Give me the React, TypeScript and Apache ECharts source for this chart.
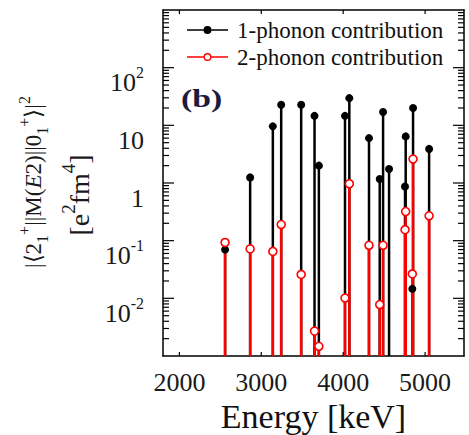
import React, { useEffect, useRef } from "react";
import * as echarts from "echarts";

// Transition energies (keV)
const energies = [2558, 2864, 3141, 3243, 3487, 3650, 3703, 4022, 4075, 4315, 4446, 4487, 4560, 4755, 4763, 4844, 4853, 5049];
// 1-phonon contribution |<2+||M(E2)||0+>|^2 [e^2 fm^4]
const onePhonon = [0.07, 1.25, 9.6, 22.8, 22.8, 14.6, 2.0, 14.6, 29.6, 6.0, 1.17, 17.0, 1.75, 0.87, 6.43, 0.0146, 20, 3.9];
// 2-phonon contribution
const twoPhonon = [0.093, 0.072, 0.065, 0.19, 0.026, 0.0027, 0.00147, 0.0101, 0.97, 0.083, 0.0078, 0.083, null, 0.155, 0.32, 0.0265, 2.6, 0.27];

const seriesNames = ["1-phonon contribution", "2-phonon contribution"];
const xTickValues = [2000, 3000, 4000, 5000];
const yMajorTicks = [0.01, 0.1, 1, 10, 100];
const yLabelValues = [0.01, 0.1, 1, 10, 100];
const yLabelTexts = ["{b|10}{s|-2}", "{b|10}{s|-1}", "{b|1}", "{b|10}", "{b|10}{s|2}"];
const yMinorTicks: number[] = [];
for (let d = -3; d <= 2; d++) {
  for (let m = 2; m <= 9; m++) yMinorTicks.push(m * Math.pow(10, d));
}

const X_MIN = 1800;
const X_MAX = 5475;
const Y_MIN = 0.001;
const Y_MAX = 1000;

const SERIF = "Liberation Serif";

const blackIcon =
  "path://M0,3.3H16.5V4.7H0Z M24.5,3.3H41V4.7H24.5Z M16.5,4A4,4,0,1,0,24.5,4A4,4,0,1,0,16.5,4Z";
const redIcon =
  "path://M0,3.3H16.5V4.7H0Z M24.5,3.3H41V4.7H24.5Z M16.5,4A4,4,0,1,1,24.5,4A4,4,0,1,1,16.5,4Z M17.9,4A2.6,2.6,0,1,0,23.1,4A2.6,2.6,0,1,0,17.9,4Z";

function pairs(vals: (number | null)[]) {
  const out: number[][] = [];
  vals.forEach((v, i) => {
    if (v !== null && v !== undefined) out.push([energies[i], v]);
  });
  return out;
}

function stemRenderer(color: string) {
  return (params: any, api: any) => {
    const x = api.value(0);
    const y = api.value(1);
    const top = api.coord([x, y]);
    const bottom = api.coord([x, Y_MIN]);
    return {
      type: "line",
      shape: { x1: top[0], y1: top[1], x2: bottom[0], y2: bottom[1] },
      style: { stroke: color, lineWidth: 2.5 },
    };
  };
}

const textGraphics: any[] = [
  {
    type: "text",
    left: 181,
    top: 86,
    scaleX: 1.35,
    z: 50,
    style: {
      text: "(b)",
      fontFamily: SERIF,
      fontWeight: "bold",
      fontSize: 25,
      fill: "#1b1b3d",
    },
  },
  {
    type: "text",
    x: 33,
    y: 182,
    rotation: Math.PI / 2,
    z: 50,
    style: {
      text: "{n||⟨2}{sub|1}{sup|+}{n|||M(}{i|E}{n|2)||0}{sub|1}{sup|+}{n|⟩|}{sup|2}",
      align: "center",
      verticalAlign: "middle",
      fill: "#1a1a1a",
      rich: {
        n: { fontFamily: SERIF, fontSize: 23, lineHeight: 34, fill: "#1a1a1a" },
        i: { fontFamily: SERIF, fontSize: 23, lineHeight: 34, fontStyle: "italic", fill: "#1a1a1a" },
        sup: { fontFamily: SERIF, fontSize: 16, verticalAlign: "top", fill: "#1a1a1a" },
        sub: { fontFamily: SERIF, fontSize: 16, verticalAlign: "bottom", fill: "#1a1a1a" },
      },
    },
  },
  {
    type: "text",
    x: 79,
    y: 195,
    rotation: Math.PI / 2,
    z: 50,
    style: {
      text: "{n|[e}{sup|2}{n|fm}{sup|4}{n|]}",
      align: "center",
      verticalAlign: "middle",
      fill: "#1a1a1a",
      rich: {
        n: { fontFamily: SERIF, fontSize: 28, lineHeight: 40, fill: "#1a1a1a" },
        sup: { fontFamily: SERIF, fontSize: 19, verticalAlign: "top", fill: "#1a1a1a" },
      },
    },
  },
];

export default function App() {
  const ref = useRef<HTMLDivElement>(null);

  useEffect(() => {
    document.body.style.margin = "0";
    if (!ref.current) return;
    const chart = echarts.init(ref.current, undefined, { renderer: "svg" });
    const axisLineStyle = { color: "#000", width: 1.5 };
    const yFormatter = (v: number) => {
      const i = yLabelValues.findIndex((t) => Math.abs(Math.log10(t) - Math.log10(v)) < 1e-6);
      return i >= 0 ? yLabelTexts[i] : "";
    };
    const logBase = {
      type: "log" as const,
      logBase: 10,
      min: Y_MIN,
      max: Y_MAX,
      splitLine: { show: false },
      axisTick: { show: false },
      minorTick: { show: false },
    };
    chart.setOption({
      animation: false,
      backgroundColor: "#fff",
      textStyle: { fontFamily: SERIF },
      grid: { left: 163, right: 5, top: 10, bottom: 79, containLabel: false, outerBoundsMode: "none" },
      legend: {
        orient: "vertical",
        left: 182,
        top: 13,
        itemWidth: 41,
        itemHeight: 8,
        itemGap: 3,
        selectedMode: false,
        textStyle: { fontFamily: SERIF, fontSize: 23, color: "#111", lineHeight: 24, padding: [0, 0, 0, 4] },
        data: [
          { name: seriesNames[0], icon: blackIcon, itemStyle: { color: "#000", borderWidth: 0 } },
          { name: seriesNames[1], icon: redIcon, itemStyle: { color: "#ff0000", borderWidth: 0 } },
        ],
      },
      xAxis: [
        {
          type: "value",
          min: X_MIN,
          max: X_MAX,
          position: "bottom",
          splitLine: { show: false },
          axisLine: { show: true, onZero: false, lineStyle: axisLineStyle },
          axisTick: { show: false },
          axisLabel: {
            customValues: xTickValues,
            formatter: (v: number) => String(v),
            margin: 26,
            verticalAlign: "middle",
            fontFamily: SERIF,
            fontSize: 26,
            color: "#1a1a1a",
          },
          name: "Energy [keV]",
          nameLocation: "middle",
          nameGap: 57,
          nameTextStyle: { fontFamily: SERIF, fontSize: 34, color: "#111", verticalAlign: "middle" },
        },
        {
          type: "value",
          min: X_MIN,
          max: X_MAX,
          position: "top",
          splitLine: { show: false },
          axisLine: { show: true, onZero: false, lineStyle: axisLineStyle },
          axisTick: { show: false },
          axisLabel: { show: false },
        },
      ],
      yAxis: [
        {
          ...logBase,
          position: "left",
          axisLine: { show: true, lineStyle: axisLineStyle },
          axisLabel: {
            customValues: yLabelValues,
            formatter: yFormatter,
            margin: 19,
            padding: [30, 0, 0, 0],
            fontFamily: SERIF,
            color: "#1a1a1a",
            rich: {
              b: { fontFamily: SERIF, fontSize: 26, lineHeight: 36, color: "#1a1a1a" },
              s: { fontFamily: SERIF, fontSize: 16, verticalAlign: "top", color: "#1a1a1a" },
            },
          },
        },
        {
          ...logBase,
          position: "right",
          axisLine: { show: true, lineStyle: axisLineStyle },
          axisLabel: { show: false },
        },
      ],
      series: [
        {
          name: seriesNames[0],
          type: "custom",
          xAxisIndex: 0,
          yAxisIndex: 0,
          renderItem: stemRenderer("#000"),
          itemStyle: { color: "#000" },
          data: pairs(onePhonon),
          z: 2,
        },
        {
          name: seriesNames[1],
          type: "custom",
          xAxisIndex: 0,
          yAxisIndex: 0,
          renderItem: stemRenderer("#ff0000"),
          itemStyle: { color: "#ff0000" },
          data: pairs(twoPhonon),
          z: 2,
        },
        {
          name: seriesNames[0],
          type: "scatter",
          xAxisIndex: 0,
          yAxisIndex: 0,
          symbol: "circle",
          symbolSize: 8,
          itemStyle: { color: "#000", opacity: 1 },
          data: pairs(onePhonon),
          z: 3,
        },
        {
          name: seriesNames[1],
          type: "scatter",
          xAxisIndex: 0,
          yAxisIndex: 0,
          symbol: "circle",
          symbolSize: 8,
          itemStyle: { color: "#fff", borderColor: "#ff0000", borderWidth: 1.6, opacity: 1 },
          data: pairs(twoPhonon),
          z: 4,
        },
      ],
      graphic: textGraphics,
    });

    // Tick marks: positions come from the chart's own axis scales via convertToPixel
    const toPx = (x: number, y: number): number[] =>
      chart.convertToPixel({ gridIndex: 0 } as any, [x, y]) as number[];
    const tickLines: any[] = [];
    const tickStyle = { stroke: "#000", lineWidth: 1.2 };
    [...yMajorTicks, ...yMinorTicks].forEach((v) => {
      const lg = Math.log10(v);
      const len = Math.abs(lg - Math.round(lg)) < 1e-6 ? 11 : 6;
      const l = toPx(X_MIN, v);
      const r = toPx(X_MAX, v);
      if (!l || !r || isNaN(l[1])) return;
      tickLines.push({
        type: "line",
        silent: true,
        z: 100,
        shape: { x1: l[0], y1: l[1], x2: l[0] + len, y2: l[1] },
        style: { ...tickStyle },
      });
      tickLines.push({
        type: "line",
        silent: true,
        z: 100,
        shape: { x1: r[0], y1: r[1], x2: r[0] - len, y2: r[1] },
        style: { ...tickStyle },
      });
    });
    xTickValues.forEach((x) => {
      const b = toPx(x, Y_MIN);
      const t = toPx(x, Y_MAX);
      if (!b || !t || isNaN(b[0])) return;
      tickLines.push({
        type: "line",
        silent: true,
        z: 100,
        shape: { x1: b[0], y1: b[1], x2: b[0], y2: b[1] - 4 },
        style: { ...tickStyle },
      });
      tickLines.push({
        type: "line",
        silent: true,
        z: 100,
        shape: { x1: t[0], y1: t[1], x2: t[0], y2: t[1] + 4 },
        style: { ...tickStyle },
      });
    });
    chart.setOption({ graphic: [...textGraphics, ...tickLines] });

    return () => chart.dispose();
  }, []);

  return <div ref={ref} style={{ width: 469, height: 435 }} />;
}
